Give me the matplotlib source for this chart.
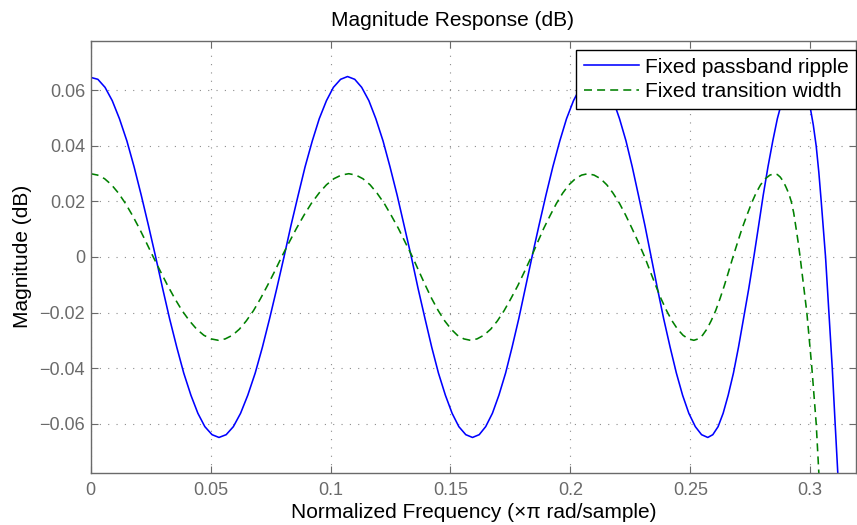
import matplotlib
matplotlib.use("Agg")
import matplotlib.pyplot as plt
from matplotlib.ticker import FuncFormatter

plt.rcParams['font.family'] = ['Liberation Sans', 'DejaVu Sans']

# normalized frequency (x pi rad/sample) and magnitude (dB)
freq_ripple = [
    0.0, 0.0030, 0.0060, 0.0090, 0.0120, 0.0151, 0.0181, 0.0211, 0.0241, 0.0271,
    0.0300, 0.0329, 0.0359, 0.0388, 0.0418, 0.0447, 0.0476, 0.0506, 0.0535,
    0.0565, 0.0595, 0.0625, 0.0655, 0.0686, 0.0716, 0.0746, 0.0776, 0.0806,
    0.0835, 0.0865, 0.0894, 0.0924, 0.0953, 0.0983, 0.1012, 0.1042, 0.1071,
    0.1101, 0.1130, 0.1160, 0.1189, 0.1219, 0.1248, 0.1278, 0.1307, 0.1337,
    0.1365, 0.1394, 0.1422, 0.1450, 0.1479, 0.1507, 0.1535, 0.1564, 0.1592,
    0.1620, 0.1647, 0.1675, 0.1702, 0.1730, 0.1757, 0.1785, 0.1812, 0.1840,
    0.1869, 0.1898, 0.1927, 0.1956, 0.1984, 0.2013, 0.2042, 0.2071, 0.2100,
    0.2126, 0.2153, 0.2179, 0.2205, 0.2232, 0.2258, 0.2284, 0.2311, 0.2337,
    0.2363, 0.2389, 0.2416, 0.2442, 0.2468, 0.2494, 0.2521, 0.2547, 0.2573,
    0.2594, 0.2616, 0.2637, 0.2658, 0.2680, 0.2701, 0.2722, 0.2744, 0.2765,
    0.2785, 0.2804, 0.2824, 0.2844, 0.2863, 0.2883, 0.2903, 0.2922, 0.2942,
    0.2955, 0.2968, 0.2980, 0.2991, 0.3001, 0.3013, 0.3025, 0.3036, 0.3046,
    0.3055, 0.3064, 0.3078, 0.3092, 0.3104, 0.3115, 0.3125,
]
mag_ripple = [
    0.0647, 0.0640, 0.0611, 0.0563, 0.0498, 0.0418, 0.0325, 0.0222, 0.0113, 0.0,
    -0.0113, -0.0222, -0.0325, -0.0418, -0.0498, -0.0563, -0.0611, -0.0640, -0.0650,
    -0.0640, -0.0611, -0.0563, -0.0498, -0.0418, -0.0325, -0.0222, -0.0113, 0.0,
    0.0113, 0.0222, 0.0325, 0.0418, 0.0498, 0.0563, 0.0611, 0.0640, 0.0650,
    0.0640, 0.0611, 0.0563, 0.0498, 0.0418, 0.0325, 0.0222, 0.0113, 0.0,
    -0.0113, -0.0222, -0.0325, -0.0418, -0.0498, -0.0563, -0.0611, -0.0640, -0.0650,
    -0.0640, -0.0611, -0.0563, -0.0498, -0.0418, -0.0325, -0.0222, -0.0113, 0.0,
    0.0113, 0.0222, 0.0325, 0.0418, 0.0498, 0.0563, 0.0611, 0.0640, 0.0650,
    0.0640, 0.0611, 0.0563, 0.0498, 0.0418, 0.0325, 0.0222, 0.0113, 0.0,
    -0.0113, -0.0222, -0.0325, -0.0418, -0.0498, -0.0563, -0.0611, -0.0640, -0.0650,
    -0.0640, -0.0611, -0.0563, -0.0498, -0.0418, -0.0325, -0.0222, -0.0113, 0.0,
    0.0113, 0.0222, 0.0325, 0.0418, 0.0498, 0.0563, 0.0611, 0.0640, 0.0650,
    0.0643, 0.0625, 0.0598, 0.0568, 0.0534, 0.0475, 0.0400, 0.0305, 0.0200,
    0.0100, 0.0, -0.0200, -0.0400, -0.0600, -0.0777, -0.0900,
]

freq_width = [
    0.0, 0.0029, 0.0058, 0.0087, 0.0116, 0.0145, 0.0174, 0.0203, 0.0232, 0.0261,
    0.0291, 0.0321, 0.0351, 0.0381, 0.0412, 0.0442, 0.0472, 0.0502, 0.0532,
    0.0561, 0.0591, 0.0620, 0.0649, 0.0679, 0.0708, 0.0737, 0.0767, 0.0796,
    0.0827, 0.0858, 0.0889, 0.0920, 0.0952, 0.0983, 0.1014, 0.1045, 0.1076,
    0.1106, 0.1135, 0.1165, 0.1194, 0.1224, 0.1253, 0.1283, 0.1312, 0.1342,
    0.1369, 0.1396, 0.1422, 0.1449, 0.1476, 0.1503, 0.1529, 0.1556, 0.1583,
    0.1611, 0.1639, 0.1668, 0.1696, 0.1724, 0.1752, 0.1781, 0.1809, 0.1837,
    0.1863, 0.1889, 0.1916, 0.1942, 0.1968, 0.1994, 0.2021, 0.2047, 0.2073,
    0.2099, 0.2126, 0.2152, 0.2178, 0.2205, 0.2231, 0.2257, 0.2284, 0.2310,
    0.2333, 0.2356, 0.2378, 0.2401, 0.2424, 0.2447, 0.2470, 0.2492, 0.2515,
    0.2533, 0.2551, 0.2569, 0.2587, 0.2606, 0.2624, 0.2642, 0.2660, 0.2678,
    0.2697, 0.2716, 0.2736, 0.2755, 0.2774, 0.2793, 0.2813, 0.2832, 0.2851,
    0.2863, 0.2875, 0.2888, 0.2900, 0.2911, 0.2921, 0.2931, 0.2940, 0.2949,
    0.2958, 0.2972, 0.2986, 0.3007, 0.3025, 0.3036, 0.3045,
]
mag_width = [
    0.0300, 0.0295, 0.0282, 0.0260, 0.0230, 0.0193, 0.0150, 0.0103, 0.0052, 0.0,
    -0.0052, -0.0103, -0.0150, -0.0193, -0.0230, -0.0260, -0.0282, -0.0295, -0.0300,
    -0.0295, -0.0282, -0.0260, -0.0230, -0.0193, -0.0150, -0.0103, -0.0052, 0.0,
    0.0052, 0.0103, 0.0150, 0.0193, 0.0230, 0.0260, 0.0282, 0.0295, 0.0300,
    0.0295, 0.0282, 0.0260, 0.0230, 0.0193, 0.0150, 0.0103, 0.0052, 0.0,
    -0.0052, -0.0103, -0.0150, -0.0193, -0.0230, -0.0260, -0.0282, -0.0295, -0.0300,
    -0.0295, -0.0282, -0.0260, -0.0230, -0.0193, -0.0150, -0.0103, -0.0052, 0.0,
    0.0052, 0.0103, 0.0150, 0.0193, 0.0230, 0.0260, 0.0282, 0.0295, 0.0300,
    0.0295, 0.0282, 0.0260, 0.0230, 0.0193, 0.0150, 0.0103, 0.0052, 0.0,
    -0.0052, -0.0103, -0.0150, -0.0193, -0.0230, -0.0260, -0.0282, -0.0295, -0.0300,
    -0.0295, -0.0282, -0.0260, -0.0230, -0.0193, -0.0150, -0.0103, -0.0052, 0.0,
    0.0052, 0.0103, 0.0150, 0.0193, 0.0230, 0.0260, 0.0282, 0.0295, 0.0300,
    0.0297, 0.0288, 0.0272, 0.0250, 0.0228, 0.0200, 0.0160, 0.0110, 0.0058,
    0.0, -0.0100, -0.0200, -0.0400, -0.0600, -0.0777, -0.0900,
]

xticks = [0, 0.05, 0.1, 0.15, 0.2, 0.25, 0.3]
yticks = [-0.06, -0.04, -0.02, 0, 0.02, 0.04, 0.06]

axis_grey = '#6a6a6a'

fig = plt.figure(figsize=(8.57, 5.25), dpi=100)
ax = fig.add_axes([0.1058, 0.0996, 0.8936, 0.8223])

ax.plot(freq_ripple, mag_ripple, color='#0000ff', lw=1.15, label='Fixed passband ripple')
ax.plot(freq_width, mag_width, color='#008000', lw=1.15, linestyle=(0, (5, 3.2)),
        label='Fixed transition width')

ax.set_xlim(0, 0.3193)
ax.set_ylim(-0.0777, 0.0778)
ax.set_xticks(xticks)
ax.set_yticks(yticks)
ax.xaxis.set_major_formatter(FuncFormatter(lambda v, p: '%g' % v))
ax.yaxis.set_major_formatter(FuncFormatter(lambda v, p: '0' if abs(v) < 1e-9 else ('%.2f' % v).replace('-', '\u2212')))

ax.grid(True, color='#8c8c8c', linestyle=(0, (1, 6.5)), linewidth=0.8)
ax.tick_params(direction='in', length=5, width=0.8, colors=axis_grey, labelsize=13,
               top=True, right=True)
ax.tick_params(axis='x', pad=7)
ax.tick_params(axis='y', pad=4)
for s in ax.spines.values():
    s.set_color(axis_grey)
    s.set_linewidth(1.0)

ax.set_title('Magnitude Response (dB)', fontsize=15, pad=11, x=0.473)
ax.set_xlabel('Normalized Frequency (\u00d7\u03c0 rad/sample)', fontsize=15, labelpad=2.5)
ax.set_ylabel('Magnitude (dB)', fontsize=15, labelpad=5)

leg = ax.legend(loc='upper right', bbox_to_anchor=(1.0, 0.979), borderaxespad=0,
                fontsize=15, handlelength=2.65, frameon=True, fancybox=False,
                framealpha=1.0, borderpad=0.36, labelspacing=0.27, handletextpad=0.3)
leg.get_frame().set_edgecolor('black')
leg.get_frame().set_linewidth(1.0)
leg.set_zorder(5)

fig.savefig('out.png', dpi=100)
